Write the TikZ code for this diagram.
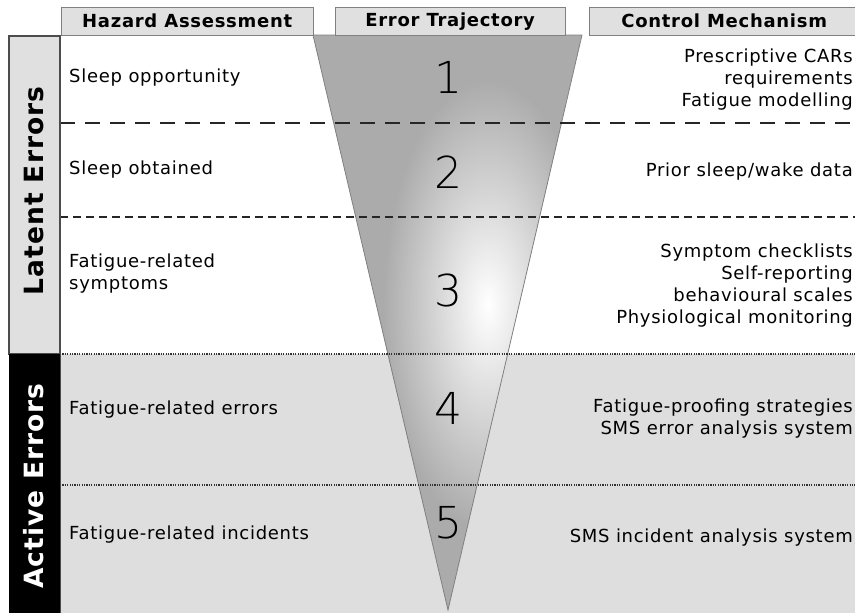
\documentclass[tikz,border=0pt]{standalone}
\usepackage{fontspec}
\setmainfont{DejaVu Sans}[LetterSpace=4]
\IfFontExistsTF{DejaVu Sans ExtraLight}
	{\newfontfamily\stagefont{DejaVu Sans ExtraLight}}
	{\newfontfamily\stagefont{DejaVu Sans}}
\usetikzlibrary{positioning}
\definecolor{headgray}{HTML}{E0E0E0}
\definecolor{bandgray}{HTML}{DEDEDE}
\definecolor{conegray}{HTML}{ABABAB}
\newcommand{\funnel}{(313,35) -- (582,35) -- (448,610) -- cycle}
\newcommand{\rowline}[2]{\draw[#1] (60,#2) -- (856,#2);}
\tikzset{
	header/.style={draw=gray, fill=headgray, anchor=north west, inner sep=0pt,
		minimum height=28pt, font=\bfseries\fontsize{18}{20}\selectfont},
	hazard/.style={anchor=west, align=left, inner sep=0pt,
		font=\fontsize{18}{22}\selectfont},
	control/.style={anchor=east, align=right, inner sep=0pt,
		font=\fontsize{18}{22}\selectfont},
	stage/.style={inner sep=0pt, font=\stagefont\fontsize{44}{44}\selectfont},
	side/.style={rotate=90, inner sep=0pt, font=\bfseries\fontsize{26.5}{27}\selectfont}
}

\begin{document}
\begin{tikzpicture}[x=1pt, y=-1pt]

					\useasboundingbox (0,0) rectangle (855,613);

					\fill[bandgray] (60,354) rectangle (856,613);

					\begin{scope}
						\clip \funnel;
						\fill[conegray] \funnel;
						\shade[inner color=white, outer color=conegray] (488,305) ellipse (105 and 225);
					\end{scope}
					\draw[gray, line width=0.8pt] \funnel;

					\rowline{black!85, line width=2pt, dash pattern=on 15pt off 10pt}{123}
					\rowline{black!85, line width=1.6pt, dash pattern=on 8pt off 5pt}{217}
					\rowline{black!80, line width=1.2pt, dash pattern=on 1.2pt off 1.2pt}{354}
					\rowline{black!80, line width=1.2pt, dash pattern=on 1.2pt off 1.2pt}{485}

					\draw[black!70, line width=1.5pt] (60,35) -- (60,613);
					\draw[black!70, fill=headgray, line width=1.2pt] (9,36) rectangle (60,354);
					\fill[black] (9,354) rectangle (60,613);

					\node[header, minimum width=252pt] (hazhead) at (61,7) {Hazard Assessment};
					\node[header, minimum width=230pt] (trajhead) at (335,7) {Error Trajectory};
					\node[header, minimum width=270pt] (ctrlhead) at (589,7) {Control Mechanism};

					\node[side] (latent) at (34,191) {Latent Errors};
					\node[side, text=white] (active) at (34,486) {Active Errors};

					\node[hazard] (haz1) at (69,78) {Sleep opportunity};
					\node[hazard] (haz2) at (69,170) {Sleep obtained};
					\node[hazard] (haz3) at (69,274) {Fatigue-related\\symptoms};
					\node[hazard] (haz4) at (69,410) {Fatigue-related errors};
					\node[hazard] (haz5) at (69,535) {Fatigue-related incidents};

					\node[stage] (st1) at (448,77) {1};
					\node[stage] (st2) at (448,172) {2};
					\node[stage] (st3) at (448,290) {3};
					\node[stage] (st4) at (448,408) {4};
					\node[stage] (st5) at (448,523) {5};

					\node[control] (ctrl1) at (853,80) {Prescriptive CARs\\requirements\\Fatigue modelling};
					\node[control] (ctrl2) at (853,172) {Prior sleep/wake data};
					\node[control] (ctrl3) at (853,286) {Symptom checklists\\Self-reporting\\behavioural scales\\Physiological monitoring};
					\node[control] (ctrl4) at (853,419) {Fatigue-proofing strategies\\SMS error analysis system};
					\node[control] (ctrl5) at (853,538) {SMS incident analysis system};

\end{tikzpicture}
\end{document}
